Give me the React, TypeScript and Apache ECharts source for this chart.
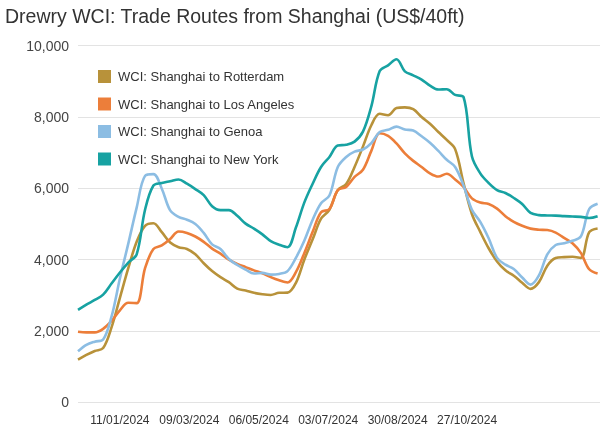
import React, { useEffect, useRef } from "react";
import * as echarts from "echarts";

// Weekly WCI dates (Thursdays), Dec 7 2023 ... Feb 13 2025
const startDate = "2023-12-07";
const weekCount = 63;

const rotterdam = [
  1200, 1330, 1440, 1520, 2100, 2930, 3760, 4500, 4950, 5020, 4770, 4480, 4350, 4300, 4150, 3900,
  3680, 3510, 3370, 3190, 3135, 3070, 3030, 3010, 3070, 3075, 3350, 4000, 4570, 5150, 5400, 5950,
  6120, 6600, 7170, 7770, 8090, 8050, 8250, 8270, 8220, 8000, 7810, 7580, 7360, 7100, 6150, 5280,
  4780, 4320, 3950, 3700, 3550, 3350, 3180, 3370, 3830, 4045, 4070, 4080, 4050, 4770, 4875,
];
const losAngeles = [
  1980, 1960, 1960, 2060, 2280, 2580, 2790, 2780, 3760, 4300, 4400, 4580, 4790, 4750, 4650, 4500,
  4310, 4170, 4000, 3880, 3790, 3700, 3620, 3510, 3420, 3360, 3650, 4180, 4780, 5330, 5420, 5950,
  6040, 6320, 6520, 7050, 7545, 7470, 7260, 6980, 6770, 6600, 6420, 6330, 6410, 6250, 6040, 5720,
  5600, 5560, 5430, 5220, 5060, 4950, 4870, 4840, 4830, 4760, 4610, 4460, 4190, 3730, 3610,
];
const genoa = [
  1430, 1610, 1700, 1760, 2400, 3470, 4450, 5460, 6350, 6400, 5990, 5380, 5200, 5120, 5000, 4750,
  4430, 4300, 4020, 3850, 3720, 3610, 3630, 3580, 3600, 3680, 4050, 4530, 5120, 5580, 5800, 6600,
  6880, 7030, 7090, 7270, 7580, 7640, 7730, 7650, 7620, 7460, 7280, 7050, 6800, 6600, 6080, 5400,
  5060, 4600, 4050, 3860, 3740, 3500, 3300, 3560, 4150, 4410, 4460, 4530, 4650, 5420, 5570,
];
const newYork = [
  2590, 2740, 2870, 3020, 3330, 3640, 3920, 4150, 5400, 6080, 6150, 6200, 6250, 6130, 5980, 5810,
  5500, 5390, 5390, 5230, 5010, 4870, 4710, 4520, 4420, 4350, 4900, 5600, 6130, 6600, 6880, 7200,
  7220, 7310, 7590, 8300, 9290, 9450, 9620, 9280, 9170, 9050, 8880, 8770, 8780, 8620, 8560, 6900,
  6420, 6150, 5950, 5870, 5730, 5560, 5310, 5250, 5240, 5235, 5220, 5210, 5200, 5170, 5220,
];

const seriesNames = [
  "WCI: Shanghai to Rotterdam",
  "WCI: Shanghai to Los Angeles",
  "WCI: Shanghai to Genoa",
  "WCI: Shanghai to New York",
];
const seriesColors = ["#B8923A", "#EC7E3A", "#8CBDE3", "#17A2A2"];

const tickDates = ["2024-01-11", "2024-03-09", "2024-05-06", "2024-07-03", "2024-08-30", "2024-10-27"];
const axisMin = "2023-12-07";
const axisMax = "2025-02-15";
const yTicks = [0, 2000, 4000, 6000, 8000, 10000];

const DAY = 86400000;
const ts = (s: string) => {
  const [y, m, d] = s.split("-").map(Number);
  return Date.UTC(y, m - 1, d);
};
const pad = (n: number) => (n < 10 ? "0" + n : "" + n);
const fmtDate = (v: number) => {
  const d = new Date(v);
  return `${pad(d.getUTCDate())}/${pad(d.getUTCMonth() + 1)}/${d.getUTCFullYear()}`;
};

const weekDates = Array.from({ length: weekCount }, (_, i) => ts(startDate) + i * 7 * DAY);

export default function App() {
  const ref = useRef<HTMLDivElement>(null);
  useEffect(() => {
    if (!ref.current) return;
    const chart = echarts.init(ref.current, null, { renderer: "svg" });
    const font = "'Liberation Sans', Arial, sans-serif";
    const all = [rotterdam, losAngeles, genoa, newYork];
    chart.setOption({
      animation: false,
      title: {
        text: "Drewry WCI: Trade Routes from Shanghai (US$/40ft)",
        left: 0,
        top: 1,
        textStyle: { fontFamily: font, fontSize: 19.5, fontWeight: "normal", color: "#333" },
      },
      legend: {
        orient: "vertical",
        left: 98,
        top: 70,
        padding: 0,
        itemWidth: 13,
        itemHeight: 13,
        itemGap: 14.5,
        icon: "rect",
        data: seriesNames,
        textStyle: { fontFamily: font, fontSize: 13, color: "#333", padding: [0, 0, 0, 2] },
      },
      grid: { left: 78, right: 0, top: 45.7, bottom: 25.7, containLabel: false },
      xAxis: {
        type: "value",
        min: ts(axisMin),
        max: ts(axisMax),
        axisLine: { show: false },
        axisTick: { show: false },
        splitLine: { show: false },
        axisLabel: {
          customValues: tickDates.map(ts),
          formatter: (v: number) => fmtDate(v),
          fontFamily: font,
          fontSize: 12,
          color: "#333",
          margin: 12,
        },
      },
      yAxis: {
        type: "value",
        min: yTicks[0],
        max: yTicks[yTicks.length - 1],
        interval: 2000,
        axisLine: { show: false },
        axisTick: { show: false },
        splitLine: { lineStyle: { color: "#e3e3e3", width: 1 } },
        axisLabel: {
          fontFamily: font,
          fontSize: 14,
          color: "#444",
          margin: 9,
          formatter: (v: number) => v.toLocaleString("en-US"),
        },
      },
      series: seriesNames.map((name, i) => ({
        name,
        type: "line",
        data: weekDates.map((d, j) => [d, all[i][j]]),
        showSymbol: false,
        smooth: 0.35,
        color: seriesColors[i],
        lineStyle: { width: 2.6, color: seriesColors[i] },
        emphasis: { disabled: true },
      })),
    });
    return () => chart.dispose();
  }, []);
  return <div ref={ref} style={{ width: 600, height: 428, position: "fixed", left: 0, top: 0 }} />;
}
